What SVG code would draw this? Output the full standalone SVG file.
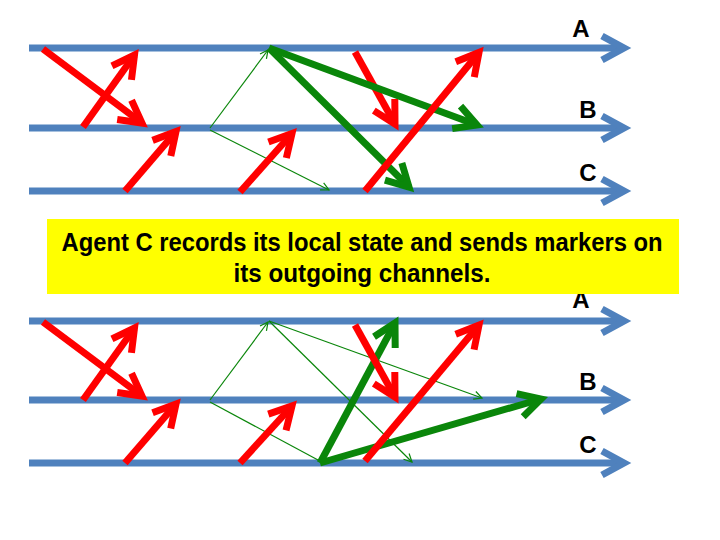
<svg xmlns="http://www.w3.org/2000/svg" width="720" height="540" viewBox="0 0 720 540">
<style>
.axis{stroke:#4F81BD;stroke-width:7;fill:none;marker-end:url(#ax)}
.red{stroke:#FF0000;stroke-width:7;fill:none;marker-end:url(#rh)}
.gk{stroke:#0A860A;stroke-width:7;fill:none;marker-end:url(#gh)}
.gt{stroke:#0A860A;stroke-width:1.2;fill:none}
.gta{stroke:#0A860A;stroke-width:1.2;fill:none;marker-end:url(#gth)}
.lbl{font-family:"Liberation Sans",Arial,sans-serif;font-weight:bold;font-size:24px;fill:#000;text-anchor:middle}
.cap{font-family:"Liberation Sans",Arial,sans-serif;font-weight:bold;font-size:25px;fill:#000;text-anchor:middle}
</style>
<defs>
<marker id="ax" markerUnits="userSpaceOnUse" viewBox="-40 -20 50 40" refX="0" refY="0" markerWidth="50" markerHeight="40" orient="auto">
<path d="M-22,-12 L0,0 L-22,12" fill="none" stroke="#4F81BD" stroke-width="7" stroke-linejoin="miter"/>
</marker>
<marker id="rh" markerUnits="userSpaceOnUse" viewBox="-40 -20 50 40" refX="0" refY="0" markerWidth="50" markerHeight="40" orient="auto">
<path d="M-22,-12 L0,0 L-22,12" fill="none" stroke="#FF0000" stroke-width="7" stroke-linejoin="miter"/>
</marker>
<marker id="gh" markerUnits="userSpaceOnUse" viewBox="-40 -20 50 40" refX="0" refY="0" markerWidth="50" markerHeight="40" orient="auto">
<path d="M-22,-12 L0,0 L-22,12" fill="none" stroke="#0A860A" stroke-width="7" stroke-linejoin="miter"/>
</marker>
<marker id="gth" markerUnits="userSpaceOnUse" viewBox="-15 -10 20 20" refX="0" refY="0" markerWidth="20" markerHeight="20" orient="auto">
<path d="M-8,-4 L0,0 L-8,4" fill="none" stroke="#0A860A" stroke-width="1.2"/>
</marker>
</defs>

<g id="top-agents">
<g id="top-A"><line class="axis" x1="29" y1="48" x2="624" y2="48"/><text class="lbl" x="581" y="37">A</text></g>
<g id="top-B"><line class="axis" x1="29" y1="128" x2="624" y2="128"/><text class="lbl" x="588" y="118">B</text></g>
<g id="top-C"><line class="axis" x1="29" y1="191" x2="624" y2="191"/><text class="lbl" x="588" y="181">C</text></g>
</g>

<g id="bottom-agents">
<g id="bot-A"><line class="axis" x1="29" y1="321" x2="624" y2="321"/><text class="lbl" x="581" y="308">A</text></g>
<g id="bot-B"><line class="axis" x1="29" y1="400" x2="624" y2="400"/><text class="lbl" x="588" y="390">B</text></g>
<g id="bot-C"><line class="axis" x1="29" y1="463" x2="624" y2="463"/><text class="lbl" x="588" y="453">C</text></g>
</g>

<g id="connectors">
<g id="top-messages">
<line class="gta" x1="210" y1="128" x2="268" y2="50"/>
<line class="gta" x1="210" y1="130" x2="329" y2="190"/>
<line class="red" x1="43" y1="49" x2="142" y2="123"/>
<line class="red" x1="83" y1="127" x2="134.5" y2="55"/>
<line class="red" x1="125" y1="191" x2="176" y2="131.5"/>
<line class="red" x1="240" y1="192" x2="292" y2="133.5"/>
<line class="red" x1="355" y1="52" x2="395" y2="124"/>
<line class="gk" x1="269" y1="48" x2="477" y2="125"/>
<line class="gk" x1="269" y1="48" x2="409" y2="187"/>
<line class="red" x1="365" y1="191" x2="479" y2="52.5"/>
</g>
<g id="bottom-messages">
<line class="gta" x1="210" y1="400" x2="268" y2="322"/>
<line class="gt" x1="210" y1="402" x2="318" y2="460"/>
<line class="gta" x1="269" y1="321" x2="482" y2="398"/>
<line class="gta" x1="269" y1="321" x2="412" y2="462"/>
<line class="gk" x1="320" y1="463" x2="395" y2="323"/>
<line class="gk" x1="320" y1="463" x2="541" y2="399"/>
<line class="red" x1="43" y1="322" x2="142" y2="396"/>
<line class="red" x1="83" y1="400" x2="134.5" y2="328"/>
<line class="red" x1="125" y1="463" x2="176" y2="404"/>
<line class="red" x1="240" y1="463" x2="292" y2="406"/>
<line class="red" x1="355" y1="325" x2="395" y2="397"/>
<line class="red" x1="365" y1="461" x2="479" y2="325"/>
</g>
</g>

<g id="caption">
<rect x="47" y="219" width="632" height="75" fill="#FFFF00"/>
<text class="cap" x="362" y="251" textLength="601" lengthAdjust="spacingAndGlyphs">Agent C records its local state and sends markers on</text>
<text class="cap" x="362" y="282" textLength="257" lengthAdjust="spacingAndGlyphs">its outgoing channels.</text>
</g>
</svg>
